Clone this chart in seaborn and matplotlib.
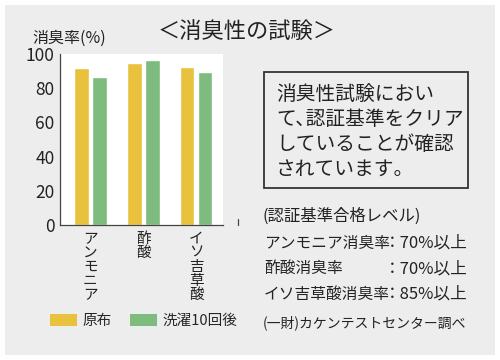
import matplotlib
matplotlib.use("Agg")
import matplotlib.pyplot as plt
import pandas as pd
import seaborn as sns
from matplotlib.patches import Rectangle, Patch

categories = ["アンモニア", "酢酸", "イソ吉草酸"]
series_names = ["原布", "洗濯10回後"]
raw_fabric = [92, 94.5, 92.5]
after_wash = [86.5, 96.5, 89.5]
y_ticks = [0, 20, 40, 60, 80, 100]

title = "＜消臭性の試験＞"
y_label = "消臭率(%)"
box_text = "消臭性試験におい\nて､認証基準をクリア\nしていることが確認\nされています。"
level_head = "(認証基準合格レベル)"
level_names = ["アンモニア消臭率", "酢酸消臭率", "イソ吉草酸消臭率"]
level_values = ["：70%以上", "：70%以上", "：85%以上"]
source = "(一財)カケンテストセンター調べ"

colors = ["#e8c23c", "#7dbb7e"]
W, H = 500, 360

sns.set_theme(style="white")
plt.rcParams["font.family"] = ["Noto Sans CJK JP", "DejaVu Sans"]

df = pd.DataFrame({
    "cat": categories * 2,
    "series": [series_names[0]] * 3 + [series_names[1]] * 3,
    "value": raw_fabric + after_wash,
})

fig = plt.figure(figsize=(W / 100, H / 100), dpi=100)
fig.patch.set_facecolor("white")
fig.patches.append(Rectangle((5 / W, 5 / H), 490 / W, 350 / H, transform=fig.transFigure,
                             facecolor="#ededed", edgecolor="none", zorder=-10))


def px(x, y):
    return x / W, 1 - y / H


ax = fig.add_axes([60 / W, 1 - 225 / H, 163 / W, 171 / H])
ax.set_facecolor("white")
sns.barplot(data=df, x="cat", y="value", hue="series", palette=colors,
            width=0.68, gap=0.17, saturation=1, legend=False, ax=ax)
ax.set_xlim(-0.57, 2.51)
ax.set_ylim(0, 100)
ax.set_yticks(y_ticks)
ax.set_xlabel("")
ax.set_ylabel("")
for s in ["top", "right"]:
    ax.spines[s].set_visible(False)
for s in ["left", "bottom"]:
    ax.spines[s].set_color("#444444")
    ax.spines[s].set_linewidth(0.9)
ax.set_xticks(range(3))
ax.set_xticklabels(["\n".join(c) for c in categories], fontsize=10.5,
                   linespacing=1.0, va="top", color="#222222")
ax.set_xticks([0.5, 1.5], minor=True)
ax.tick_params(axis="x", which="major", length=0, pad=5)
ax.tick_params(axis="x", which="minor", direction="in", length=5, width=0.9, color="#444444")
ax.tick_params(axis="y", direction="in", length=6, width=0.9, color="#444444",
               labelsize=12.5, pad=4, labelcolor="#222222")
ax.plot([2.79, 2.79], [0, 3.5], color="#444444", lw=0.9, clip_on=False)

fig.text(*px(247, 31), title, fontsize=16, ha="center", va="center", color="#222222")
fig.text(*px(32, 38), y_label, fontsize=11.5, ha="left", va="center", color="#222222")

# legend
handles = [Patch(facecolor=c, edgecolor="none") for c in colors]
fig.legend(handles, series_names, loc="center left", bbox_to_anchor=px(50, 321), ncol=2,
           frameon=False, fontsize=10.5, handlelength=1.85, handleheight=0.8,
           handletextpad=0.4, columnspacing=1.2, borderpad=0, borderaxespad=0)

# box text
fig.patches.append(Rectangle(px(264, 188), 204 / W, 116 / H, transform=fig.transFigure,
                             facecolor="none", edgecolor="#333333", linewidth=1.3))
fig.text(*px(276, 132), box_text, fontsize=14.2, ha="left", va="center",
         linespacing=1.25, color="#222222")

fig.text(*px(263, 216), level_head, fontsize=11.8, ha="left", va="center", color="#222222")
for i, (n, v) in enumerate(zip(level_names, level_values)):
    y = 243 + 25.5 * i
    fig.text(*px(264, y), n, fontsize=11.3, ha="left", va="center", color="#222222")
    fig.text(*px(384, y), v, fontsize=12, ha="left", va="center", color="#222222")
fig.text(*px(263, 323), source, fontsize=10, ha="left", va="center", color="#222222")

fig.savefig("out.png", dpi=100, facecolor=fig.get_facecolor())
